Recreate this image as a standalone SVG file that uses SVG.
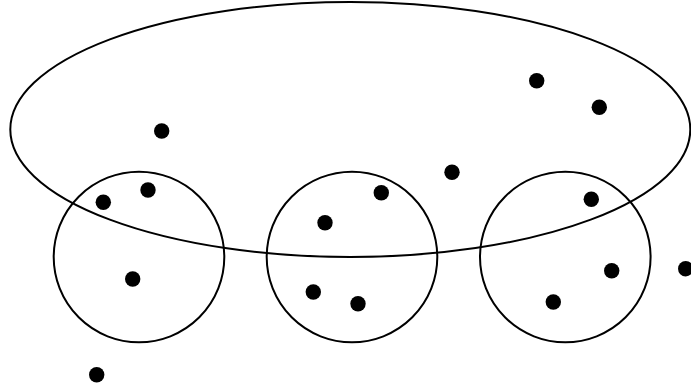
<svg xmlns="http://www.w3.org/2000/svg" width="691" height="391" viewBox="0 0 691 391">
<style>
.set{fill:none;stroke:#000;stroke-width:2}
.pt{fill:#000}
</style>
<rect width="691" height="391" fill="#fff"/>
<g id="sets">
<ellipse id="big" class="set" cx="350.3" cy="129.5" rx="340" ry="127.5"/>
<circle id="c1" class="set" cx="139" cy="257" r="85.3"/>
<circle id="c2" class="set" cx="352" cy="257" r="85.3"/>
<circle id="c3" class="set" cx="565.3" cy="257" r="85.3"/>
</g>
<g id="points">
<circle class="pt" cx="161.7" cy="131" r="7.7"/>
<circle class="pt" cx="536.7" cy="80.7" r="7.7"/>
<circle class="pt" cx="599.3" cy="107.3" r="7.7"/>
<circle class="pt" cx="452" cy="172.3" r="7.7"/>
<circle class="pt" cx="148" cy="190" r="7.7"/>
<circle class="pt" cx="103.3" cy="202.3" r="7.7"/>
<circle class="pt" cx="132.7" cy="279" r="7.7"/>
<circle class="pt" cx="96.7" cy="374.7" r="7.7"/>
<circle class="pt" cx="325" cy="222.7" r="7.7"/>
<circle class="pt" cx="313.3" cy="292" r="7.7"/>
<circle class="pt" cx="381.3" cy="192.7" r="7.7"/>
<circle class="pt" cx="358" cy="303.7" r="7.7"/>
<circle class="pt" cx="591.3" cy="199.3" r="7.7"/>
<circle class="pt" cx="611.7" cy="270.7" r="7.7"/>
<circle class="pt" cx="553.3" cy="302" r="7.7"/>
<circle class="pt" cx="685.7" cy="268.7" r="7.7"/>
</g>
</svg>
